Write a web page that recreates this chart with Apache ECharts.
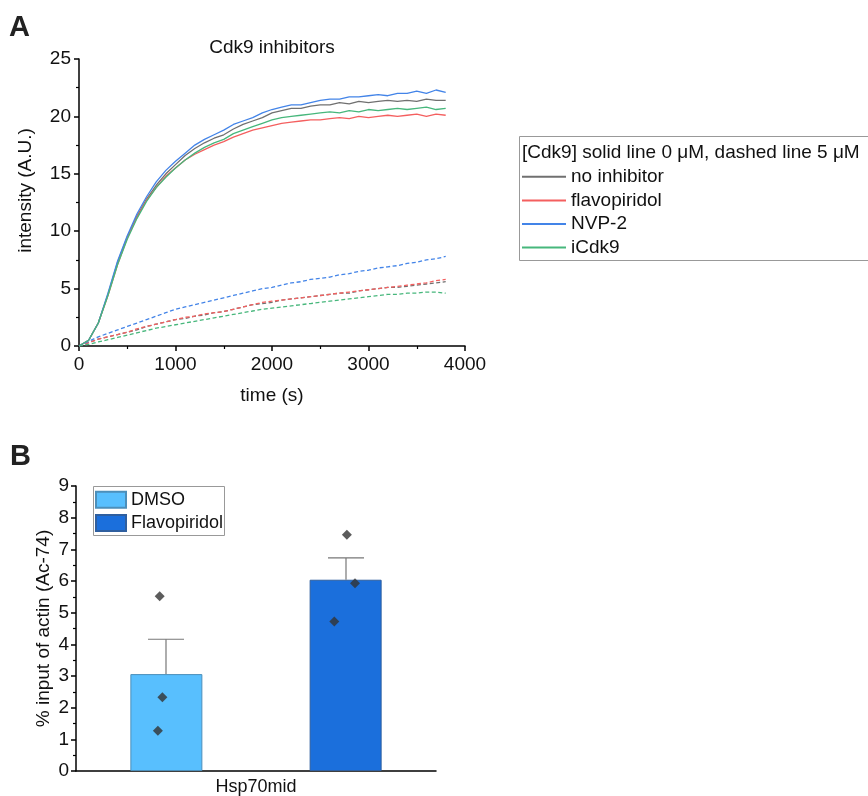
<!DOCTYPE html>
<html>
<head>
<meta charset="utf-8">
<script src="https://cdn.jsdelivr.net/npm/echarts@6/dist/echarts.min.js"></script>
<style>
  html, body { margin: 0; padding: 0; background: #fff; }
  #main { width: 868px; height: 796px; }
</style>
</head>
<body>
<div id="main"></div>
<script>
// panel A: time points (s)
var time = [0, 100, 200, 300, 400, 500, 600, 700, 800, 900,
  1000, 1100, 1200, 1300, 1400, 1500, 1600, 1700, 1800, 1900,
  2000, 2100, 2200, 2300, 2400, 2500, 2600, 2700, 2800, 2900,
  3000, 3100, 3200, 3300, 3400, 3500, 3600, 3700, 3800];

// solid lines, [Cdk9] 0 uM
var noInh0 = [0, 0.5, 2.0, 4.5, 7.3, 9.5, 11.3, 12.8, 14.0, 15.0,
  15.8, 16.6, 17.2, 17.7, 18.1, 18.4, 18.9, 19.3, 19.6, 19.9,
  20.3, 20.5, 20.7, 20.7, 20.9, 21.0, 21.0, 21.2, 21.1, 21.3,
  21.2, 21.3, 21.4, 21.3, 21.4, 21.3, 21.5, 21.4, 21.4];
var flavo0 = [0, 0.5, 2.0, 4.4, 7.1, 9.4, 11.2, 12.7, 13.8, 14.8,
  15.5, 16.2, 16.7, 17.1, 17.5, 17.8, 18.2, 18.5, 18.8, 19.0,
  19.2, 19.4, 19.5, 19.6, 19.7, 19.7, 19.8, 19.9, 19.8, 20.0,
  19.9, 20.0, 20.1, 20.0, 20.1, 20.2, 20.0, 20.2, 20.1];
var nvp0 = [0, 0.5, 2.0, 4.6, 7.4, 9.6, 11.5, 13.0, 14.3, 15.3,
  16.1, 16.8, 17.5, 18.0, 18.4, 18.8, 19.3, 19.6, 19.9, 20.3,
  20.6, 20.8, 21.0, 21.0, 21.2, 21.4, 21.5, 21.5, 21.7, 21.7,
  21.8, 21.9, 21.8, 22.0, 22.0, 22.2, 22.0, 22.3, 22.1];
var icdk0 = [0, 0.5, 2.0, 4.4, 7.1, 9.3, 11.1, 12.6, 13.8, 14.7,
  15.5, 16.2, 16.8, 17.3, 17.7, 18.0, 18.5, 18.8, 19.1, 19.4,
  19.7, 19.9, 20.0, 20.1, 20.2, 20.3, 20.4, 20.3, 20.5, 20.4,
  20.6, 20.5, 20.6, 20.7, 20.6, 20.7, 20.8, 20.6, 20.7];

// dashed lines, [Cdk9] 5 uM
var noInh5 = [0, 0.3, 0.6, 0.8, 1.0, 1.2, 1.4, 1.7, 1.9, 2.1,
  2.3, 2.4, 2.6, 2.7, 2.9, 3.0, 3.2, 3.4, 3.6, 3.7,
  3.8, 4.0, 4.1, 4.2, 4.3, 4.4, 4.5, 4.6, 4.6, 4.8,
  4.9, 5.0, 5.1, 5.1, 5.2, 5.3, 5.4, 5.5, 5.6];
var flavo5 = [0, 0.3, 0.6, 0.8, 1.0, 1.2, 1.5, 1.7, 1.9, 2.1,
  2.3, 2.5, 2.6, 2.8, 2.9, 3.0, 3.2, 3.4, 3.6, 3.8,
  3.9, 4.0, 4.1, 4.2, 4.3, 4.4, 4.5, 4.6, 4.7, 4.8,
  4.9, 5.0, 5.1, 5.2, 5.3, 5.4, 5.5, 5.7, 5.8];
var nvp5 = [0, 0.4, 0.8, 1.1, 1.4, 1.7, 2.0, 2.3, 2.6, 2.9,
  3.2, 3.4, 3.6, 3.8, 4.0, 4.2, 4.4, 4.6, 4.8, 5.0,
  5.1, 5.3, 5.5, 5.6, 5.8, 5.9, 6.0, 6.2, 6.3, 6.5,
  6.6, 6.8, 6.9, 7.0, 7.2, 7.3, 7.5, 7.6, 7.8];
var icdk5 = [0, 0.15, 0.35, 0.55, 0.75, 0.95, 1.15, 1.35, 1.55, 1.7,
  1.85, 2.0, 2.15, 2.3, 2.45, 2.6, 2.75, 2.9, 3.05, 3.2,
  3.3, 3.4, 3.5, 3.6, 3.7, 3.8, 3.9, 4.0, 4.1, 4.2,
  4.3, 4.4, 4.5, 4.5, 4.6, 4.6, 4.7, 4.7, 4.6];

var lineNames = ['no inhibitor', 'flavopiridol', 'NVP-2', 'iCdk9'];
var lineColors = ['#707070', '#f45f5f', '#4384e8', '#47b77c'];

// panel B
var categoriesB = ['Hsp70mid'];
var groupNames = ['DMSO', 'Flavopiridol'];
var groupMeans = [3.06, 6.04];
var groupErr = [1.10, 0.69];
var groupColors = ['#58bffe', '#1b6fdc'];
var groupBorders = ['#4c8fba', '#2f5f9f'];
var dotGroup = [0, 0, 0, 1, 1, 1];
var dotJitter = [-0.07, -0.04, -0.09, 0.01, 0.10, -0.13];
var dotValues = [5.52, 2.33, 1.27, 7.46, 5.93, 4.72];
var groupPos = [-1, 1];

var FONT = 'Liberation Sans, Arial, sans-serif';
var myChart = echarts.init(document.getElementById('main'));

function lineSeries(name, data, color, dashed) {
    var pts = [];
    for (var i = 0; i < time.length; i++) pts.push([time[i], data[i]]);
    return {
        name: name, type: 'line', xAxisIndex: 0, yAxisIndex: 0,
        data: pts, symbol: 'none', animation: false,
        lineStyle: { color: color, width: 1.3, type: dashed ? [4, 2.5] : 'solid' },
        itemStyle: { color: color }
    };
}

var series = [];
var solid = [noInh0, flavo0, nvp0, icdk0];
var dashed = [noInh5, flavo5, nvp5, icdk5];
for (var k = 0; k < 4; k++) series.push(lineSeries(lineNames[k] + ' 5', dashed[k], lineColors[k], true));
for (var k = 0; k < 4; k++) series.push(lineSeries(lineNames[k], solid[k], lineColors[k], false));

// bars
for (var g = 0; g < 2; g++) {
    series.push({
        name: groupNames[g], type: 'bar', xAxisIndex: 1, yAxisIndex: 1,
        data: [groupMeans[g]], barWidth: 72, barGap: '149%',
        itemStyle: { color: groupColors[g], borderColor: groupBorders[g], borderWidth: 1 },
        animation: false
    });
}
// error bars
var errData = [];
for (var g = 0; g < 2; g++) errData.push([groupPos[g], groupMeans[g], groupMeans[g] + groupErr[g]]);
series.push({
    type: 'custom', xAxisIndex: 2, yAxisIndex: 1, animation: false, z: 3,
    data: errData,
    renderItem: function (params, api) {
        var lo = api.coord([api.value(0), api.value(1)]);
        var hi = api.coord([api.value(0), api.value(2)]);
        var st = { stroke: '#777', lineWidth: 1.2 };
        return {
            type: 'group', children: [
                { type: 'line', shape: { x1: lo[0], y1: lo[1], x2: hi[0], y2: hi[1] }, style: st },
                { type: 'line', shape: { x1: hi[0] - 18, y1: hi[1], x2: hi[0] + 18, y2: hi[1] }, style: st }
            ]
        };
    }
});
// individual points
var dots = [];
for (var d = 0; d < dotValues.length; d++) dots.push([groupPos[dotGroup[d]] + dotJitter[d], dotValues[d]]);
series.push({
    type: 'scatter', xAxisIndex: 2, yAxisIndex: 1, data: dots, z: 4,
    symbol: 'diamond', symbolSize: 10, animation: false,
    itemStyle: { color: '#333' }
});

function plain(v) { return String(v); }

var option = {
    backgroundColor: '#fff',
    textStyle: { fontFamily: FONT },
    title: [
        { text: 'Cdk9 inhibitors', left: 272, top: 38, textAlign: 'center', padding: 0,
          textStyle: { fontFamily: FONT, fontSize: 19, fontWeight: 'normal', color: '#111' } }
    ],
    legend: [
        { data: lineNames, orient: 'vertical', left: 522, top: 165, itemWidth: 44, itemHeight: 2,
          itemGap: 0, icon: 'rect', padding: 0,
          textStyle: { fontFamily: FONT, fontSize: 19, lineHeight: 23.6, color: '#111' } },
        { data: groupNames, orient: 'vertical', left: 95, top: 488, itemWidth: 30, itemHeight: 16,
          itemGap: 0, icon: 'rect', padding: 0,
          textStyle: { fontFamily: FONT, fontSize: 18, lineHeight: 23.3, color: '#111' } }
    ],
    grid: [
        { left: 79, top: 59, width: 386, height: 287 },
        { left: 76, top: 486, width: 360, height: 286 }
    ],
    xAxis: [
        { type: 'value', gridIndex: 0, min: 0, max: 4000, interval: 1000,
          name: 'time (s)', nameLocation: 'middle', nameGap: 40,
          nameTextStyle: { fontFamily: FONT, fontSize: 19, color: '#111' },
          axisLine: { lineStyle: { color: '#000', width: 1.5 } },
          axisTick: { show: true, length: 5, lineStyle: { color: '#000', width: 1.5 } },
          minorTick: { show: true, splitNumber: 2, length: 3, lineStyle: { color: '#000', width: 1.2 } },
          axisLabel: { fontFamily: FONT, fontSize: 19, color: '#111', margin: 9, formatter: plain },
          splitLine: { show: false } },
        { type: 'category', gridIndex: 1, data: categoriesB,
          axisLine: { lineStyle: { color: '#000', width: 1.5 } },
          axisTick: { show: false },
          axisLabel: { fontFamily: FONT, fontSize: 18, color: '#111', margin: 7 } },
        { type: 'value', gridIndex: 1, min: -2, max: 2, show: false }
    ],
    yAxis: [
        { type: 'value', gridIndex: 0, min: 0, max: 25, interval: 5,
          name: 'intensity (A.U.)', nameLocation: 'middle', nameGap: 44,
          nameTextStyle: { fontFamily: FONT, fontSize: 19, color: '#111', padding: [0, 0, 0, 24] },
          axisLine: { show: true, onZero: false, lineStyle: { color: '#000', width: 1.5 } },
          axisTick: { show: true, length: 5, lineStyle: { color: '#000', width: 1.5 } },
          minorTick: { show: true, splitNumber: 2, length: 3, lineStyle: { color: '#000', width: 1.2 } },
          axisLabel: { fontFamily: FONT, fontSize: 19, color: '#111', margin: 8, formatter: plain },
          splitLine: { show: false } },
        { type: 'value', gridIndex: 1, min: 0, max: 9, interval: 1,
          name: '% input of actin (Ac-74)', nameLocation: 'middle', nameGap: 23,
          nameTextStyle: { fontFamily: FONT, fontSize: 19, color: '#111' },
          axisLine: { show: true, onZero: false, lineStyle: { color: '#000', width: 1.5 } },
          axisTick: { show: true, length: 5, lineStyle: { color: '#000', width: 1.5 } },
          minorTick: { show: true, splitNumber: 2, length: 3, lineStyle: { color: '#000', width: 1.2 } },
          axisLabel: { fontFamily: FONT, fontSize: 19, color: '#111', margin: 7, formatter: plain },
          splitLine: { show: false } }
    ],
    graphic: [
        { type: 'text', left: 9, top: 13, style: { text: 'A', font: 'bold 29px ' + FONT, fill: '#222' } },
        { type: 'text', left: 10, top: 442, style: { text: 'B', font: 'bold 29px ' + FONT, fill: '#222' } },
        { type: 'rect', shape: { x: 519.5, y: 136.5, width: 360, height: 124 },
          style: { fill: 'none', stroke: '#999', lineWidth: 1 } },
        { type: 'text', left: 522, top: 143,
          style: { text: '[Cdk9] solid line 0 \u03bcM, dashed line 5 \u03bcM', font: '19px ' + FONT, fill: '#111' } },
        { type: 'rect', shape: { x: 93.5, y: 486.5, width: 131, height: 49 },
          style: { fill: 'none', stroke: '#999', lineWidth: 1 } }
    ],
    series: series
};
myChart.setOption(option);
</script>
</body>
</html>
